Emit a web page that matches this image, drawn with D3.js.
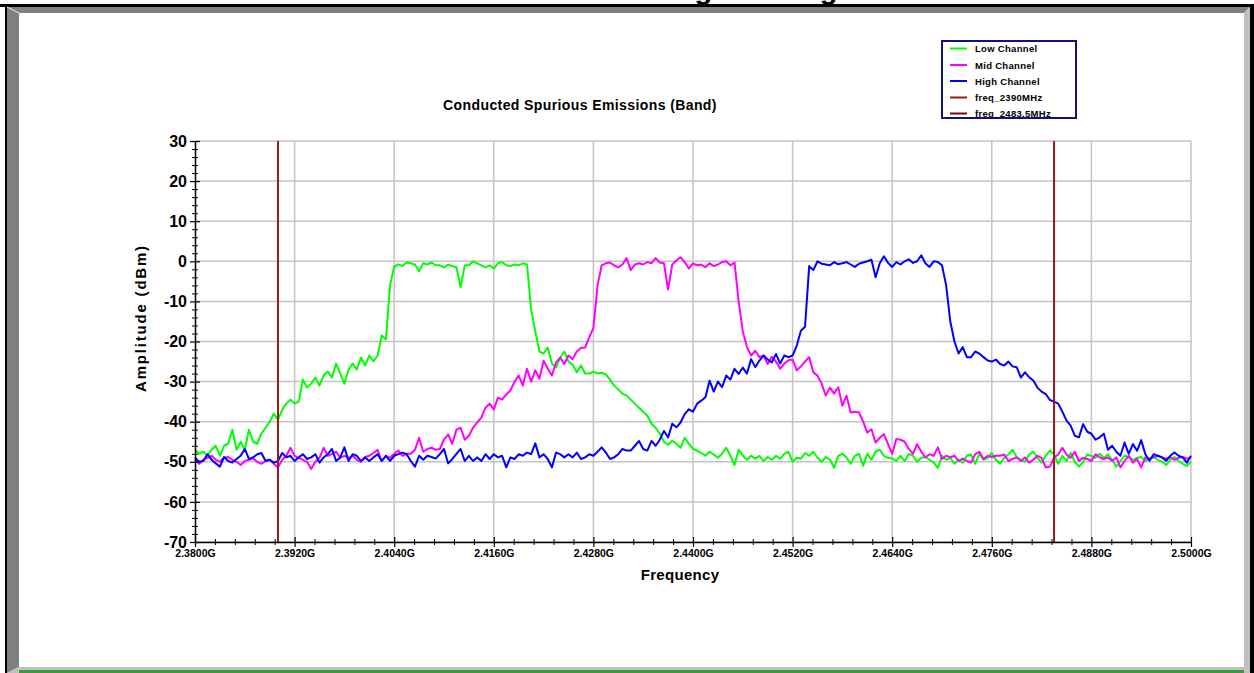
<!DOCTYPE html>
<html><head><meta charset="utf-8">
<script src="https://cdn.jsdelivr.net/npm/d3@7"></script>
<style>
body{margin:0;background:#fff;overflow:hidden}
text{font-family:"Liberation Sans",Arial,Helvetica,sans-serif;font-weight:bold;fill:#000}
</style>
</head><body>
<svg id="chart" width="1254" height="673"></svg>
<script>
// ---------- data ----------
const freqStartGHz = 2.380;
const freqStopGHz = 2.500;
const xTickValues = [2.380, 2.392, 2.404, 2.416, 2.428, 2.440, 2.452, 2.464, 2.476, 2.488, 2.500];
const xTickLabels = ["2.3800G","2.3920G","2.4040G","2.4160G","2.4280G","2.4400G","2.4520G","2.4640G","2.4760G","2.4880G","2.5000G"];
const yTickValues = [30, 20, 10, 0, -10, -20, -30, -40, -50, -60, -70];
const yTickLabels = ["30","20","10","0","-10","-20","-30","-40","-50","-60","-70"];
const markerFreqs = [2.390, 2.4835];
const seriesNames = ["Low Channel", "Mid Channel", "High Channel", "freq_2390MHz", "freq_2483.5MHz"];

// amplitude (dBm), sweep points evenly spaced from 2.380 GHz to 2.500 GHz
const lowChannel = [
-47,-48,-47.5,-48.5,-47,-46,-48.5,-46,-45.5,-42,-47,-45,-47,-42,-45,-45.5,-43,-41.5,-40,-38,-39.5,
-37,-35.5,-34.5,-35.5,-35,-29.5,-31.5,-30.5,-29,-31,-28.5,-27.5,-29,-25.5,-28,-30.5,-27,-25.5,-27,-24,
-26,-23.5,-25,-23.5,-18.5,-19.5,-6,-1.3,-0.8,-1.2,-0.3,-0.5,-0.8,-2.5,-0.5,-0.8,-0.3,-1,-1,-1.5,
-0.8,-1.2,-1.5,-6.5,-1,-1,0,-0.5,-1,-1.5,-1,-1.8,-0.5,-0.2,-1,-1.2,-0.8,-1,-0.5,-0.8,
-12,-17.5,-22.5,-23,-21.5,-25.5,-26.5,-24,-22.5,-25,-25.8,-27.7,-26,-28,-28,-27.5,-28,-27.8,-28.2,-29.5,
-31,-32,-33,-33.5,-34.5,-35.5,-36.5,-37.5,-38.5,-40.5,-41.5,-43,-45,-45.75,-44.75,-45.5,-46.5,-44,-45.5,-46.75,
-47.25,
-47.8,-48.5,-47.5,-48.2,-49,-48,-46.5,-48.5,-50.8,-47,
-48.5,-49.5,-48.5,-49.2,-48.5,-49.8,-48.8,-49.5,-48.5,-49.2,
-48,-47.5,-50,-49,-49.2,-47.8,-48.5,-47.5,-49,-50,
-48.8,-49.5,-51.5,-48.5,-48,-49,-50.5,-48.5,-48,-51,
-48,-49.5,-47.5,-47,-48.5,-49,-49.2,-49.8,-48.5,-49.8,
-48,-48.5,-50,-49,-48.8,-49.5,-50.2,-51.5,-48.5,-49.5,
-49,-50.5,-49.5,-50.2,-48.5,-48.2,-50.5,-48,-49.5,-49,
-47.8,-49.5,-50.5,-49,-48.2,-47,-48.8,-49.5,-50,-48.2,
-47.5,-49,-50.2,-48.5,-47.2,-48.2,-50.5,-48.5,-49.8,-47.8,
-50,-51.2,-50,-48.2,-48.5,-49,-48,-49,-48.2,-49.5,
-51.2,-49.8,-48.5,-48.8,-49.5,-49,-48.8,-49.8,-49.2,-48.8,
-49.5,-50,-50.8,-49.5,-48.8,-49.8,-50.5,-51,-50
];
const midChannel = [
-49.5,-50.5,-49.5,-49,-48.5,-49.5,-50,-49,-48.8,-49.5,-50,-50.8,-49.8,-49.5,-49.2,-50,-50.5,-49.8,-49.5,-50.5,-51.4,
-49.5,-48.5,-46.5,-48.5,-49,-49.5,-50,-51.8,-50,-49,-46.5,-48.5,-48,-47.5,-49,-48.5,-49,-48.5,-49.5,-50,
-48.8,-48.5,-47.8,-47,-49.8,-48.5,-49,-48,-47.2,-48.5,-48,-48,-47,-44,-47.5,-46.8,-46.5,-47,-46.8,-44.5,
-43.2,-45.5,-42,-41.5,-44.5,-43.5,-41.5,-40.2,-39,-36.5,-35.5,-37,-34,-34.5,-33.2,-32.2,-30,-28.5,-31,-26.8,
-30,-27.2,-29.3,-24.8,-26.8,-28.5,-25.2,-24,-25.6,-23.5,-24.4,-22.5,-21.6,-21.5,-19,-16.6,-6,-1,-0.5,-0.3,
-1,-1.5,-0.8,0.8,-2.2,-0.8,-0.5,-0.8,-0.2,-0.5,0.8,-0.3,-0.5,-7,-0.8,0.2,1,-0.2,-1.8,-0.5,
-1,-0.8,-1.5,-0.5,-1.2,-0.8,-0.2,0,-1,-0.3,-10,-17.5,-21.4,-23.5,-22.3,-23.9,-23.5,-25.6,-23.8,-25,
-26.8,-25.5,-24.7,-24.5,-27.2,-26.2,-25,-23.9,-27.7,-28.5,-30.5,-33.5,-31.5,-33,-31.4,-36,-33.5,-37.7,-37.5,-37.7,
-40,-42.7,-41.9,-45.2,-44,-43.1,-45.6,-48,-44.3,-44.5,-45,-46.8,-48,-45.6,-47.5,-48.9,-48.1,-48.5,-46.4,-49.3,
-48.5,-48.9,-48.5,-49.8,-49.2,-49.8,-50.2,-48.1,-47.5,-49.3,-48.5,-48.8,-48.5,-48.5,-48.2,-49.8,-49.3,-48.9,-49.8,-48.9,
-50.2,-49.5,-48.5,-49,-51.4,-51.2,-49,-48.2,-46.5,-48.2,-49,-47.5,-49.8,-49,-49.3,-49.8,-48.1,-48.9,-49.3,-48.9,
-49.8,-48.9,-51.4,-49.8,-48.5,-50.2,-49.3,-51.4,-48.9,-49.3,-48.9,-48.5,-48.9,-49.2,-48.8,-49.5,-49,-48.8,-49.2,-49
];
const highChannel = [
-49,-50,-49.8,-48.1,-49.5,-50.4,-51.2,-48.8,-49.8,-50.2,-49.3,-48.5,-46.8,-49.3,-48.9,-48.1,-47.8,-49.8,-49.5,-50.2,-49.8,
-47.8,-48.9,-48.5,-49.8,-48.9,-48.1,-49.3,-48.9,-48.1,-50.2,-48.9,-48.1,-46.8,-49.8,-48.9,-46.4,-49.8,-48.1,-48.5,-49.8,
-48.9,-49.8,-48.9,-48.1,-49.8,-48.5,-49.8,-48.5,-48.1,-47.7,-48.1,-49.8,-51.2,-48.5,-49.5,-48.5,-48.8,-49.2,-48.1,-46.8,
-50.4,-49.3,-48,-46.8,-49.8,-48.5,-49.8,-48.9,-49.8,-48.1,-49.3,-48.1,-48.9,-48.5,-51.4,-48.9,-49.3,-48.1,-48.5,-47.7,
-48.1,-45.4,-48.9,-48.1,-49.3,-51.4,-47.7,-48.1,-48.9,-48.1,-48.9,-47.7,-49.3,-48.9,-48.1,-48.5,-47.5,-46.4,-47.7,-49.3,
-48.9,-48.1,-46.8,-47.2,-47.2,-46,-44.8,-46.8,-47.2,-44.8,-46,-44.5,-42.3,-43.9,-40.5,-41.4,-40.2,-38.1,-36.9,-37.5,
-35.5,-34.75,-33.9,-29.75,-32.5,-30,-31.4,-28.5,-29.5,-26.8,-28.1,-26.5,-28,-24.4,-26.4,-24.75,-23.5,-24.5,-25.2,-23.1,
-25.5,-23.5,-23.9,-23.5,-21,-17.3,-16.3,-1.2,-2.2,0,-0.6,-0.8,-1,-0.2,-0.75,-0.5,-0.2,-0.8,-1.4,-0.6,
-0.3,0,0.4,-4,-0.5,1.25,-0.4,-1.4,-0.2,-0.8,0,0.5,-0.4,0,1.5,-0.5,-1.4,0,-0.2,-1,
-6,-15,-20,-23,-21.4,-23.9,-23.9,-22.5,-23,-23.9,-24.75,-25,-24.5,-25.6,-26,-25,-26.2,-26.4,-29,-27.7,
-28.9,-29.75,-31.5,-32.5,-33.1,-34.6,-35,-35.5,-37.5,-39.75,-41,-43.5,-43.9,-40.6,-42.5,-43,-44.5,-43.9,-43,-47,
-46,-47.5,-48.5,-45.2,-48,-45.6,-47.25,-44.6,-48.1,-49.75,-48.1,-48.5,-48.9,-49.75,-48.5,-47.7,-48.5,-48.9,-50.2,-48.5
];

// ---------- chart ----------
const svg = d3.select("#chart");
const W = 1254, H = 673;

// window frame
svg.append("rect").attr("x",0).attr("y",0).attr("width",W).attr("height",H).attr("fill","#fff");
svg.append("text").attr("x",577).attr("y",-1).style("font-size","29px").text("Band Edge Testing");
svg.append("rect").attr("x",0).attr("y",4).attr("width",W).attr("height",3).attr("fill","#000");
svg.append("rect").attr("x",5).attr("y",4).attr("width",2).attr("height",H-4).attr("fill","#000");
svg.append("rect").attr("x",1250).attr("y",4).attr("width",4).attr("height",H-4).attr("fill","#000");
svg.append("polygon").attr("points","7,7 1250,7 1244,13 19,13").attr("fill","#808080");
svg.append("polygon").attr("points","7,7 19,13 19,667 7,673").attr("fill","#808080");
svg.append("polygon").attr("points","1250,7 1250,673 1244,667 1244,13").attr("fill","#c0c0c0");
svg.append("polygon").attr("points","7,673 19,667 1244,667 1250,673").attr("fill","#c0c0c0");
svg.append("line").attr("x1",7).attr("y1",7).attr("x2",19).attr("y2",13).attr("stroke","#e8e8e8").attr("stroke-width",1);
svg.append("rect").attr("x",19).attr("y",670).attr("width",1225).attr("height",3).attr("fill","#3c9a3c");

const x = d3.scaleLinear().domain([freqStartGHz, freqStopGHz]).range([195, 1191]);
const y = d3.scaleLinear().domain([-70, 30]).range([542, 141]);

// grid
const grid = svg.append("g");
grid.selectAll("line.gx").data(xTickValues.slice(1)).join("line")
  .attr("x1", d=>x(d)).attr("x2", d=>x(d)).attr("y1", y(30)).attr("y2", y(-70))
  .attr("stroke","#c4c4c4").attr("stroke-width",1.5);
grid.selectAll("line.gy").data(yTickValues).join("line")
  .attr("x1", x(freqStartGHz)).attr("x2", x(freqStopGHz)).attr("y1", d=>y(d)).attr("y2", d=>y(d))
  .attr("stroke","#c4c4c4").attr("stroke-width",1.5);

// traces
const series = [
  {name: seriesNames[0], values: lowChannel,  color: "#00ff00"},
  {name: seriesNames[1], values: midChannel,  color: "#ff00ff"},
  {name: seriesNames[2], values: highChannel, color: "#0000ff"}
];
const line = d3.line().x(d=>x(d[0])).y(d=>y(d[1]));
series.forEach(s => {
  const n = s.values.length;
  const pts = s.values.map((v,i)=>[freqStartGHz + i*(freqStopGHz-freqStartGHz)/(n-1), v]);
  svg.append("path").datum(pts).attr("d", line).attr("fill","none")
    .attr("stroke", s.color).attr("stroke-width", 2).attr("stroke-linejoin","round");
});

// frequency markers
svg.selectAll("line.marker").data(markerFreqs).join("line")
  .attr("x1", d=>x(d)).attr("x2", d=>x(d)).attr("y1", y(30)).attr("y2", y(-70))
  .attr("stroke","#991a1a").attr("stroke-width",2);

// minor ticks
const xMinor = [];
for (let i=0;i<xTickValues.length-1;i++) for (let k=1;k<5;k++) xMinor.push(xTickValues[i] + k*0.0024);
const yMinor = [];
for (let i=0;i<yTickValues.length-1;i++) for (let k=1;k<5;k++) yMinor.push(yTickValues[i] - k*2);

const gxm = svg.append("g").attr("transform",`translate(0,${y(-70)})`)
  .call(d3.axisBottom(x).tickValues(xMinor).tickFormat("").tickSize(3).tickSizeOuter(0));
gxm.select(".domain").remove();
gxm.selectAll(".tick line").attr("y1",-3).attr("y2",3).attr("stroke","#000").attr("stroke-width",1);

const gym = svg.append("g").attr("transform",`translate(${x(freqStartGHz)},0)`)
  .call(d3.axisLeft(y).tickValues(yMinor).tickFormat("").tickSize(3).tickSizeOuter(0));
gym.select(".domain").remove();
gym.selectAll(".tick line").attr("x1",-3).attr("x2",3).attr("stroke","#000").attr("stroke-width",1);

// major axes
const gx = svg.append("g").attr("transform",`translate(0,${y(-70)})`)
  .call(d3.axisBottom(x).tickValues(xTickValues).tickFormat((d,i)=>xTickLabels[i]).tickSize(5).tickSizeOuter(0).tickPadding(3));
gx.select(".domain").attr("stroke","#000").attr("stroke-width",1.5);
gx.selectAll(".tick line").attr("y1",-5).attr("y2",5).attr("stroke","#000").attr("stroke-width",1.2);
gx.selectAll(".tick text").style("font-size","10.5px").style("font-weight","bold")
  .style("font-family","'Liberation Sans',Arial,sans-serif").attr("fill","#000");

const gy = svg.append("g").attr("transform",`translate(${x(freqStartGHz)},0)`)
  .call(d3.axisLeft(y).tickValues(yTickValues).tickFormat((d,i)=>yTickLabels[i]).tickSize(5).tickSizeOuter(0).tickPadding(3));
gy.select(".domain").attr("stroke","#000").attr("stroke-width",1.5);
gy.selectAll(".tick line").attr("x1",-5).attr("x2",5).attr("stroke","#000").attr("stroke-width",1.2);
gy.selectAll(".tick text").style("font-size","16px").style("font-weight","bold")
  .style("font-family","'Liberation Sans',Arial,sans-serif").attr("fill","#000");

// titles
svg.append("text").attr("x",580).attr("y",110).attr("text-anchor","middle")
  .style("font-size","14px").style("letter-spacing","0.4px").text("Conducted Spurious Emissions (Band)");
svg.append("text").attr("x",680).attr("y",580).attr("text-anchor","middle")
  .style("font-size","15px").style("letter-spacing","0.3px").text("Frequency");
svg.append("text").attr("transform","translate(146,318) rotate(-90)").attr("text-anchor","middle")
  .style("font-size","15px").style("letter-spacing","1.8px").text("Amplitude (dBm)");

// legend
const legend = svg.append("g");
legend.append("rect").attr("x",942).attr("y",41).attr("width",134).attr("height",77)
  .attr("fill","#fff").attr("stroke","#101080").attr("stroke-width",2);
const legendColors = ["#00ff00","#ff00ff","#0000ff","#991a1a","#800000"];
const rowY = [48.5, 65, 81, 97.5, 113.5];
seriesNames.forEach((nm,i)=>{
  legend.append("line").attr("x1",950).attr("x2",967).attr("y1",rowY[i]).attr("y2",rowY[i])
    .attr("stroke",legendColors[i]).attr("stroke-width",2);
  legend.append("text").attr("x",975).attr("y",rowY[i]+3.5)
    .style("font-size","9.5px").style("letter-spacing","0.3px").text(nm);
});
</script>
</body></html>
